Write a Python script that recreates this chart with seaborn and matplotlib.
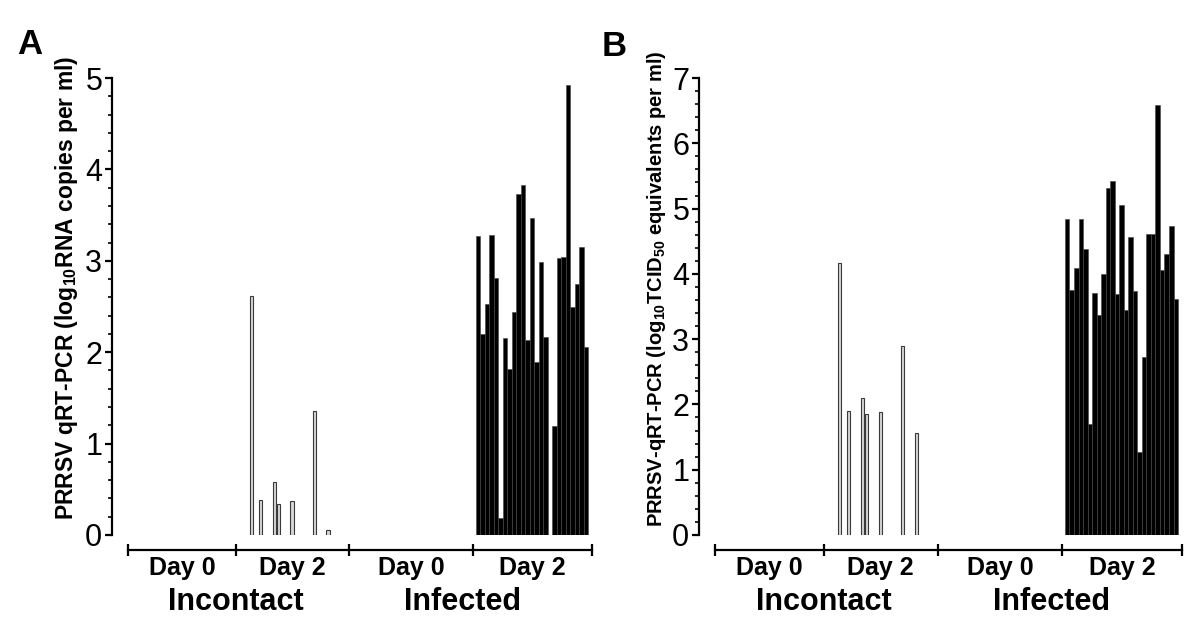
import numpy as np
import pandas as pd
import seaborn as sns
import matplotlib.pyplot as plt
from matplotlib.ticker import MultipleLocator

sns.set_style("ticks")
plt.rcParams['font.family'] = ['Liberation Sans', 'DejaVu Sans']
plt.rcParams['mathtext.fontset'] = 'custom'
plt.rcParams['mathtext.rm'] = 'Liberation Sans'
plt.rcParams['mathtext.bf'] = 'Liberation Sans:bold'
for key in ['text.color', 'axes.labelcolor', 'xtick.color', 'ytick.color', 'axes.edgecolor']:
    plt.rcParams[key] = 'black'

# group labels along the x axis
day_labels = ["Day 0", "Day 2", "Day 0", "Day 2"]
cohort_labels = ["Incontact", "Infected"]

# values per animal, 0 = not detected
# Panel A: log10 RNA copies per ml
rna_incontact_d0 = [0] * 21
rna_incontact_d2 = [0, 0, 0, 2.61, 0, 0.38, 0, 0, 0.58, 0.34, 0, 0, 0.37,
                    0, 0, 0, 0, 1.36, 0, 0, 0.06]
rna_infected_d0 = [0] * 25
rna_infected_d2 = [3.27, 2.20, 2.53, 3.28, 2.81, 0.19, 2.15, 1.82, 2.44, 3.73,
                   3.83, 2.13, 3.47, 1.89, 2.99, 2.17, 0, 1.19, 3.03, 3.04,
                   4.92, 2.50, 2.75, 3.15, 2.06]

# Panel B: log10 TCID50 equivalents per ml
tcid_incontact_d0 = [0] * 21
tcid_incontact_d2 = [0, 0, 0, 4.17, 0, 1.90, 0, 0, 2.10, 1.85, 0, 0, 1.88,
                     0, 0, 0, 0, 2.89, 0, 0, 1.57]
tcid_infected_d0 = [0] * 25
tcid_infected_d2 = [4.84, 3.75, 4.09, 4.84, 4.38, 1.70, 3.71, 3.37, 4.00, 5.32,
                    5.42, 3.69, 5.05, 3.45, 4.57, 3.74, 1.27, 2.72, 4.61, 4.61,
                    6.58, 4.06, 4.31, 4.73, 3.62]

# layout of the four groups, in animal-slot units
group_width = [24, 25.25, 27.5, 26.5]
group_pad = [0, 0, 0, 0.58]
bounds = np.concatenate([[0], np.cumsum(group_width)])


def build_frame(series):
    rows = []
    for g, vals in enumerate(series):
        for i, v in enumerate(vals):
            if v > 0:
                rows.append({"pos": bounds[g] + group_pad[g] + i + 0.5, "value": v, "group": g})
    return pd.DataFrame(rows)


def draw_panel(ax, series, ymax, ylabel, label_size, label_x, letter, letter_xy):
    df = build_frame(series)
    contact = df[df["group"] < 2]
    infected = df[df["group"] >= 2]

    sns.barplot(data=contact, x="pos", y="value", native_scale=True, width=0.72,
                color="#d6d6d6", saturation=1, edgecolor="#3a3a3a", linewidth=0.8,
                errorbar=None, ax=ax)
    sns.barplot(data=infected, x="pos", y="value", native_scale=True, width=1.0,
                color="black", saturation=1, edgecolor="#444444", linewidth=0.4,
                errorbar=None, ax=ax)

    ax.set_xlim(-3.56, bounds[-1] + 0.4)
    ax.set_ylim(0, ymax)
    for s in ["top", "right"]:
        ax.spines[s].set_visible(False)
    ax.spines["left"].set_bounds(0, ymax)
    ax.spines["left"].set_linewidth(1.6)
    ax.spines["bottom"].set_position(("outward", 10.8))
    ax.spines["bottom"].set_bounds(bounds[0], bounds[-1])
    ax.spines["bottom"].set_linewidth(1.6)

    ax.set_xticks(bounds)
    ax.set_xticklabels([])
    ax.tick_params(axis="x", direction="inout", length=9, width=1.6)
    ax.set_yticks(range(ymax + 1))
    ax.yaxis.set_minor_locator(MultipleLocator(0.2))
    ax.tick_params(axis="y", which="major", length=5, width=1.6, labelsize=22, pad=2)
    ax.tick_params(axis="y", which="minor", length=3, width=1.2)

    ax.set_xlabel("")
    ax.set_ylabel(ylabel, fontsize=label_size, fontweight="bold")
    ax.yaxis.set_label_coords(label_x, 0.54)

    trans = ax.get_xaxis_transform()
    for g, lab in enumerate(day_labels):
        ax.text((bounds[g] + bounds[g + 1]) / 2, -0.072, lab, transform=trans,
                ha="center", va="center", fontsize=18, fontweight="bold")
    ax.text(bounds[1], -0.147, cohort_labels[0], transform=trans,
            ha="center", va="center", fontsize=22, fontweight="bold")
    ax.text(bounds[3] - 2.3, -0.147, cohort_labels[1], transform=trans,
            ha="center", va="center", fontsize=22, fontweight="bold")

    ax.figure.text(letter_xy[0], letter_xy[1], letter, fontsize=25,
                   fontweight="bold", ha="center", va="center")


fig = plt.figure(figsize=(12, 6.35), dpi=100)
ax_a = fig.add_axes([112 / 1200, 100 / 635, 482 / 1200, 457 / 635])
ax_b = fig.add_axes([699 / 1200, 100 / 635, 485 / 1200, 457 / 635])

draw_panel(ax_a, [rna_incontact_d0, rna_incontact_d2, rna_infected_d0, rna_infected_d2],
           5, r"PRRSV qRT-PCR (log$_{\mathbf{10}}$RNA copies per ml)", 16.5, -0.066,
           "A", (30 / 1200, 1 - 44 / 635))
draw_panel(ax_b, [tcid_incontact_d0, tcid_incontact_d2, tcid_infected_d0, tcid_infected_d2],
           7, r"PRRSV-qRT-PCR (log$_{\mathbf{10}}$TCID$_{\mathbf{50}}$ equivalents per ml)",
           14.5, -0.064, "B", (614 / 1200, 1 - 47 / 635))

fig.savefig("out.png", dpi=100)
